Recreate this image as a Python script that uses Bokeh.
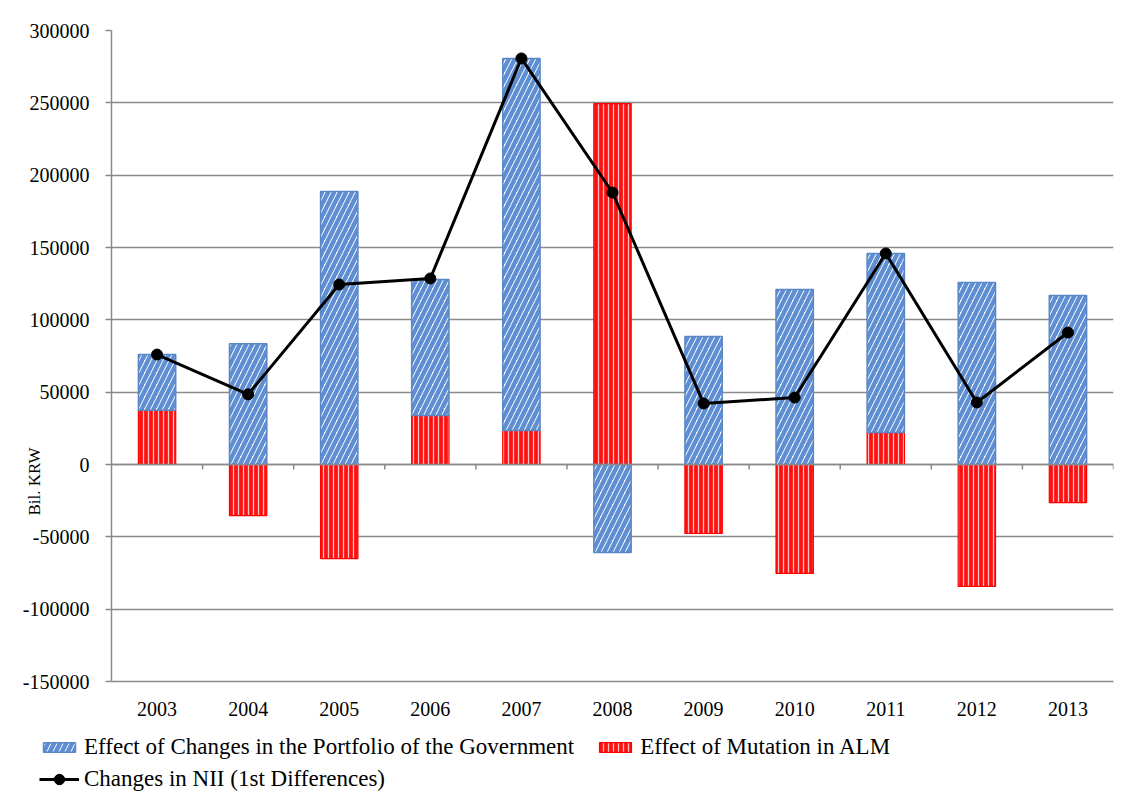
from bokeh.plotting import figure
from bokeh.layouts import column
from bokeh.models import (FactorRange, Range1d, Legend, LegendItem, Span, Label,
                          FixedTicker, ColumnDataSource, NumeralTickFormatter)
from bokeh.transform import dodge
from bokeh.embed import file_html
from bokeh.resources import INLINE

years = ["2003", "2004", "2005", "2006", "2007", "2008", "2009", "2010", "2011", "2012", "2013"]
gov = [38500, 83400, 188700, 94000, 257200, -60800, 88500, 121000, 123800, 125800, 116800]
alm = [37500, -35300, -65000, 33900, 23500, 249500, -47700, -75300, 22100, -84300, -26300]
nii = [76000, 48500, 124400, 128600, 280700, 188000, 42200, 46300, 145900, 42900, 91200]
y_ticks = [-150000, -100000, -50000, 0, 50000, 100000, 150000, 200000, 250000, 300000]

# stacking: ALM first, then Government portfolio (positives and negatives stack separately)
alm_b, alm_t, gov_b, gov_t = [], [], [], []
for a, g in zip(alm, gov):
    pos, neg = 0, 0
    res = []
    for v in (a, g):
        if v >= 0:
            res.append((pos, pos + v)); pos += v
        else:
            res.append((neg, neg + v)); neg += v
    alm_b.append(res[0][0]); alm_t.append(res[0][1])
    gov_b.append(res[1][0]); gov_t.append(res[1][1])

src = ColumnDataSource(dict(years=years, alm_b=alm_b, alm_t=alm_t, gov_b=gov_b, gov_t=gov_t, nii=nii))

GRAY = "#8a8a8a"
FONT = "Liberation Serif"
ALM_STYLE = dict(fill_color="#ff1010", line_color="#ff0000", line_width=1.2,
                 hatch_pattern="vertical_line", hatch_color="white", hatch_alpha=0.75,
                 hatch_weight=1.3, hatch_scale=5)
GOV_STYLE = dict(fill_color="white", line_color="#5a87c5", line_width=1.5,
                 hatch_pattern="right_diagonal_line", hatch_color="#5f8fd2",
                 hatch_weight=4.5, hatch_scale=12)

p = figure(x_range=FactorRange(*years, range_padding=0), y_range=Range1d(-150000, 300000),
           width=1124, height=725, output_backend="svg", toolbar_location=None,
           min_border_left=110, min_border_top=30, min_border_right=11, min_border_bottom=44)
p.outline_line_color = None
p.background_fill_color = "white"
p.border_fill_color = "white"

p.xgrid.grid_line_color = None
p.ygrid.grid_line_color = GRAY
p.ygrid.grid_line_width = 1.5
p.ygrid.ticker = FixedTicker(ticks=y_ticks)

p.yaxis.ticker = FixedTicker(ticks=y_ticks)
p.yaxis.formatter = NumeralTickFormatter(format="0")
p.yaxis.axis_line_color = GRAY
p.yaxis.axis_line_width = 1.5
p.yaxis.major_tick_line_color = GRAY
p.yaxis.major_tick_line_width = 1.5
p.yaxis.major_tick_out = 6
p.yaxis.major_tick_in = 0
p.yaxis.minor_tick_line_color = None
p.yaxis.major_label_text_font = FONT
p.yaxis.major_label_text_font_size = "20px"
p.yaxis.major_label_text_color = "black"
p.yaxis.major_label_standoff = 16

p.xaxis.axis_line_color = GRAY
p.xaxis.axis_line_width = 1.5
p.xaxis.major_tick_line_color = None
p.xaxis.minor_tick_line_color = None
p.xaxis.major_label_text_font = FONT
p.xaxis.major_label_text_font_size = "20px"
p.xaxis.major_label_text_color = "black"
p.xaxis.major_label_standoff = 14

W = 0.41
r_alm = p.vbar(x="years", bottom="alm_b", top="alm_t", width=W, source=src, **ALM_STYLE)
r_gov = p.vbar(x="years", bottom="gov_b", top="gov_t", width=W, source=src, **GOV_STYLE)

# zero line with category-boundary ticks
p.add_layout(Span(location=0, dimension="width", line_color=GRAY, line_width=1.5))
p.segment(x0=dodge("years", 0.5, range=p.x_range), y0=0,
          x1=dodge("years", 0.5, range=p.x_range), y1=-3500,
          source=src, line_color=GRAY, line_width=1.5)

r_line = p.line(x="years", y="nii", source=src, line_color="black", line_width=3)
r_pts = p.scatter(x="years", y="nii", source=src, size=11, fill_color="black", line_color="black")

ylab = Label(x=34, y=200, x_units="screen", y_units="screen", text="Bil. KRW",
             angle=1.5708, text_align="center", text_baseline="middle",
             text_font=FONT, text_font_size="17px", text_color="black")
p.add_layout(ylab, "left")

# legend strip (second figure, same styles; dummy marks lie outside its ranges)
p2 = figure(width=1124, height=74, x_range=Range1d(0, 10), y_range=Range1d(0, 10),
            x_axis_type=None, y_axis_type=None,
            output_backend="svg", toolbar_location=None,
            min_border_left=0, min_border_right=0, min_border_top=0, min_border_bottom=0)
p2.grid.visible = False
p2.outline_line_color = None
for fig in (p, p2):
    if "frame_align" in fig.properties():
        fig.frame_align = False

l_gov = p2.vbar(x=[-100], top=[-100], width=1, **GOV_STYLE)
l_alm = p2.vbar(x=[-100], top=[-100], width=1, **ALM_STYLE)
l_line = p2.line(x=[-100, -90], y=[-100, -100], line_color="black", line_width=3)
l_pts = p2.scatter(x=[-100], y=[-100], size=11, fill_color="black", line_color="black")

leg_common = dict(label_text_font=FONT, label_text_font_size="23px", label_text_color="black",
                  glyph_width=40, label_standoff=5, padding=0, margin=0,
                  border_line_color=None, background_fill_alpha=0, label_height=24,
                  orientation="horizontal", spacing=21)
leg1 = Legend(items=[LegendItem(label="Effect of Changes in the Portfolio of the Government", renderers=[l_gov]),
                     LegendItem(label="Effect of Mutation in ALM", renderers=[l_alm])],
              location=(39, 39), glyph_height=12, **leg_common)
leg2 = Legend(items=[LegendItem(label="Changes in NII (1st Differences)", renderers=[l_line, l_pts])],
              location=(39, 7), glyph_height=26, **leg_common)
p2.add_layout(leg1)
p2.add_layout(leg2)

layout = column(p, p2, spacing=0)
open("out.html", "w").write(file_html(layout, INLINE))
